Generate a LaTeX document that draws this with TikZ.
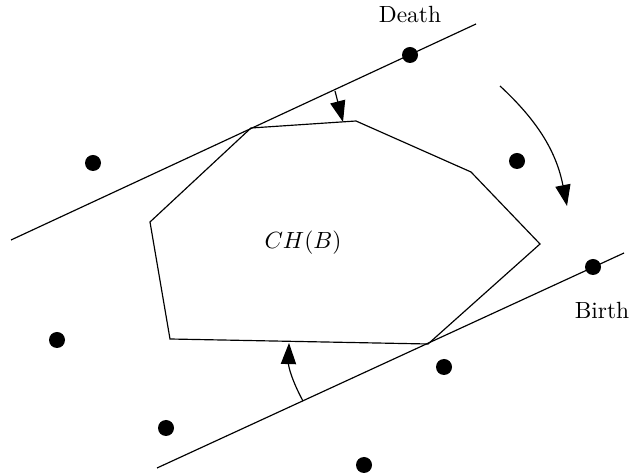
\documentclass[tikz,border=0pt]{standalone}
\usetikzlibrary{arrows.meta}

\tikzset{
  point/.style={circle, fill=black, inner sep=0pt, minimum size=0.24cm},
  hullarrow/.style={-{Triangle[length=9pt, width=6.5pt]}},
}

\begin{document}
\begin{tikzpicture}[x=0.015cm, y=-0.015cm, line width=0.5pt]

\useasboundingbox (0,0) rectangle (630,474);

% Define coordinates
\coordinate (h1) at (251,128);
\coordinate (h2) at (356,121);
\coordinate (h3) at (471,172);
\coordinate (h4) at (540,244);
\coordinate (h5) at (428,344);
\coordinate (h6) at (170,339);
\coordinate (h7) at (150,222);

\coordinate (topStart) at (11,240);
\coordinate (topEnd) at (476,24);
\coordinate (botStart) at (157,468);
\coordinate (botEnd) at (624,253);

% Convex hull
\draw (h1) -- (h2) -- (h3) -- (h4) -- (h5) -- (h6) -- (h7) -- cycle;
\node (hull) at (303,243) {$CH(B)$};

% Supporting lines
\draw (topStart) -- (topEnd);
\draw (botStart) -- (botEnd);

% Points
\node[point] (death) at (410,55) {};
\node[point] (birth) at (593,267) {};
\node[point] (p1) at (93,163) {};
\node[point] (p2) at (517,161) {};
\node[point] (p3) at (57,340) {};
\node[point] (p4) at (444,367) {};
\node[point] (p5) at (166,428) {};
\node[point] (p6) at (364,465) {};

% Labels
\node (deathLabel) at (410,15) {Death};
\node (birthLabel) at (602,311) {Birth};

% Arrows
\coordinate (topFrom) at (335,91);
\coordinate (topTo) at (343,122);
\coordinate (botFrom) at (303,401);
\coordinate (botTo) at (289,343);
\coordinate (rotFrom) at (500,86);
\coordinate (rotTo) at (567,206);

\draw[hullarrow] (topFrom) -- (topTo);
\draw[hullarrow] (botFrom) to[bend left=15] (botTo);
\draw[hullarrow] (rotFrom) to[bend left=18] (rotTo);

\end{tikzpicture}
\end{document}
